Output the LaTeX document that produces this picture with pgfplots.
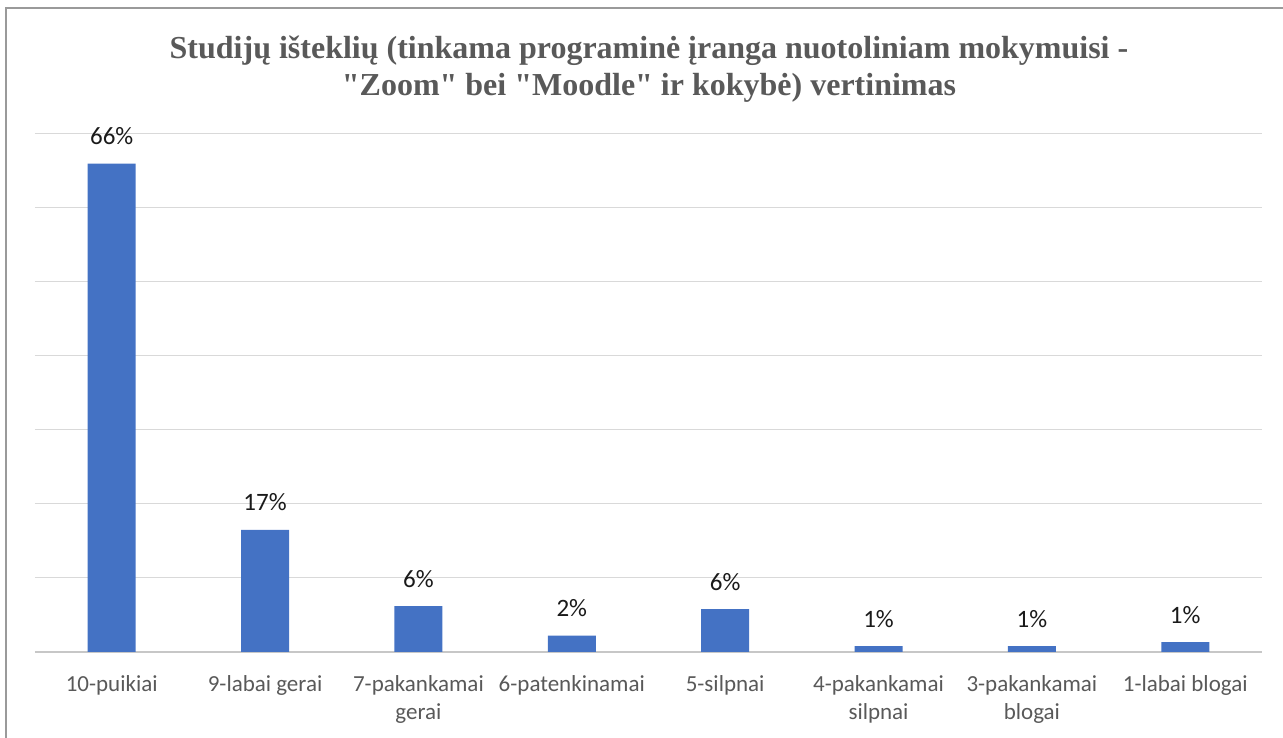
\documentclass[border=0pt]{standalone}
\usepackage{pgfplots}
\pgfplotsset{compat=1.18}
\usepackage{fontspec}
\setmainfont{Carlito}
\newfontfamily\titlefont{Liberation Serif}
\definecolor{barblue}{HTML}{4472C4}
\definecolor{gridgray}{HTML}{D9D9D9}
\definecolor{labgray}{HTML}{595959}
\definecolor{datagray}{HTML}{1A1A1A}
\definecolor{framegray}{HTML}{9A9A9A}
\begin{document}
\begin{tikzpicture}[x=1pt,y=1pt]
\path[use as bounding box] (0,0) rectangle (1283,738);
\draw[framegray,line width=2pt] (6,0) -- (6,730) -- (1283,730);
\node[font=\titlefont\bfseries\fontsize{32}{36}\selectfont, text=labgray, anchor=base] at (649,679) {Studijų išteklių (tinkama programinė įranga nuotoliniam mokymuisi -};
\node[font=\titlefont\bfseries\fontsize{32}{36}\selectfont, text=labgray, anchor=base] at (649,642) {"Zoom" bei "Moodle" ir kokybė) vertinimas};
\begin{axis}[
  at={(35pt,86pt)}, anchor=south west,
  scale only axis, width=1227pt, height=518pt,
  xmin=-0.5, xmax=7.5, ymin=0, ymax=70,
  ytick={0,10,...,70},
  yticklabels={},
  ymajorgrids, major grid style={gridgray, line width=1pt},
  axis line style={draw=none},
  axis x line*=bottom,
  y axis line style={draw=none},
  major tick length=0pt,
  xtick={0,...,7},
  xticklabels={10-puikiai,9-labai gerai,7-pakankamai\\gerai,6-patenkinamai,5-silpnai,4-pakankamai\\silpnai,3-pakankamai\\blogai,1-labai blogai},
  xticklabel style={align=center, text=labgray, font=\fontsize{23}{28}\selectfont, anchor=north, yshift=-20pt},
  ybar, bar width=48pt,
  nodes near coords,
  point meta=explicit symbolic,
  nodes near coords style={font=\fontsize{25}{28}\selectfont, text=datagray, anchor=base, yshift=19pt},
  clip=false,
]
\draw[gridgray!80!gray, line width=1.2pt] (axis cs:-0.5,0) -- (axis cs:7.5,0);
\addplot[fill=barblue, draw=none] coordinates {
  (0,66.0) [66\%]
  (1,16.5) [17\%]
  (2,6.2) [6\%]
  (3,2.2) [2\%]
  (4,5.8) [6\%]
  (5,0.8) [1\%]
  (6,0.8) [1\%]
  (7,1.35) [1\%]
};
\end{axis}
\end{tikzpicture}
\end{document}
